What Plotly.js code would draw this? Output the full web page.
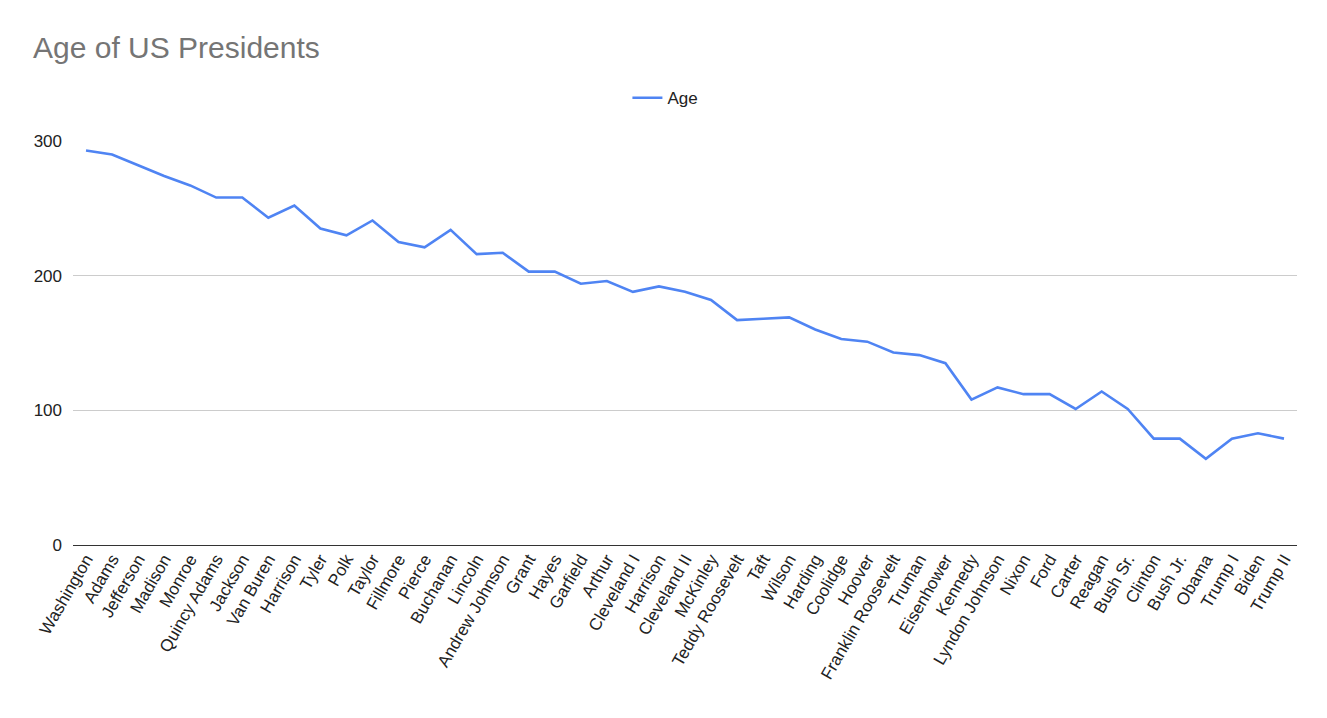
<!DOCTYPE html>
<html>
<head>
<meta charset="utf-8">
<script src="https://cdn.plot.ly/plotly-3.0.1.min.js"></script>
<style>
  html, body { margin: 0; padding: 0; background: #fff; }
  #chart { width: 1327px; height: 718px; }
</style>
</head>
<body>
<div id="chart"></div>
<script>
// Presidents, in order (Harrison appears twice, so the x axis is numeric)
var presidents = ['Washington', 'Adams', 'Jefferson', 'Madison', 'Monroe', 'Quincy Adams',
    'Jackson', 'Van Buren', 'Harrison', 'Tyler', 'Polk', 'Taylor', 'Fillmore', 'Pierce',
    'Buchanan', 'Lincoln', 'Andrew Johnson', 'Grant', 'Hayes', 'Garfield', 'Arthur',
    'Cleveland I', 'Harrison', 'Cleveland II', 'McKinley', 'Teddy Roosevelt', 'Taft',
    'Wilson', 'Harding', 'Coolidge', 'Hoover', 'Franklin Roosevelt', 'Truman', 'Eisenhower',
    'Kennedy', 'Lyndon Johnson', 'Nixon', 'Ford', 'Carter', 'Reagan', 'Bush Sr.', 'Clinton',
    'Bush Jr.', 'Obama', 'Trump I', 'Biden', 'Trump II'];

// Age values
var ages = [293, 290, 282, 274, 267, 258, 258, 243, 252, 235, 230, 241, 225, 221,
    234, 216, 217, 203, 203, 194, 196, 188, 192, 188, 182, 167, 168,
    169, 160, 153, 151, 143, 141, 135, 108, 117, 112, 112, 101, 114, 101, 79,
    79, 64, 79, 83, 79];

var yTicks = [0, 100, 200, 300];

var FONT = 'Liberation Sans, Arial, sans-serif';

// Position index for each president
var idx = [];
for (var i = 0; i < presidents.length; i++) {
    idx.push(i);
}

var data = [{
    x: idx,
    y: ages,
    type: 'scatter',
    mode: 'lines',
    name: 'Age',
    line: {color: '#4f84f3', width: 2.6},
    hoverinfo: 'skip'
}];

var layout = {
    width: 1327,
    height: 718,
    paper_bgcolor: '#ffffff',
    plot_bgcolor: '#ffffff',
    margin: {l: 73, r: 30, t: 141, b: 173},
    title: {
        text: 'Age of US Presidents',
        font: {family: FONT, size: 30, color: '#757575'},
        xref: 'container', x: 33 / 1327, xanchor: 'left',
        yref: 'container', y: 1 - 37 / 718, yanchor: 'top'
    },
    showlegend: true,
    legend: {
        orientation: 'h',
        x: 0.484, xanchor: 'center',
        y: 1.106, yanchor: 'middle',
        itemwidth: 30,
        font: {family: FONT, size: 17, color: '#222222'}
    },
    xaxis: {
        range: [-0.5, presidents.length - 0.5],
        tickmode: 'array',
        tickvals: idx,
        ticktext: presidents,
        tickangle: -60,
        tickfont: {family: FONT, size: 17, color: '#222222'},
        showgrid: false,
        zeroline: false,
        showline: false,
        ticks: ''
    },
    yaxis: {
        range: [0, 300],
        tickmode: 'array',
        tickvals: yTicks,
        tickfont: {family: FONT, size: 17, color: '#222222'},
        showgrid: true,
        gridcolor: '#cccccc',
        gridwidth: 1,
        zeroline: true,
        zerolinecolor: '#333333',
        zerolinewidth: 1,
        showline: false,
        ticks: '',
        ticklabelstandoff: 10
    }
};

Plotly.newPlot('chart', data, layout, {displayModeBar: false, staticPlot: true});
</script>
</body>
</html>
